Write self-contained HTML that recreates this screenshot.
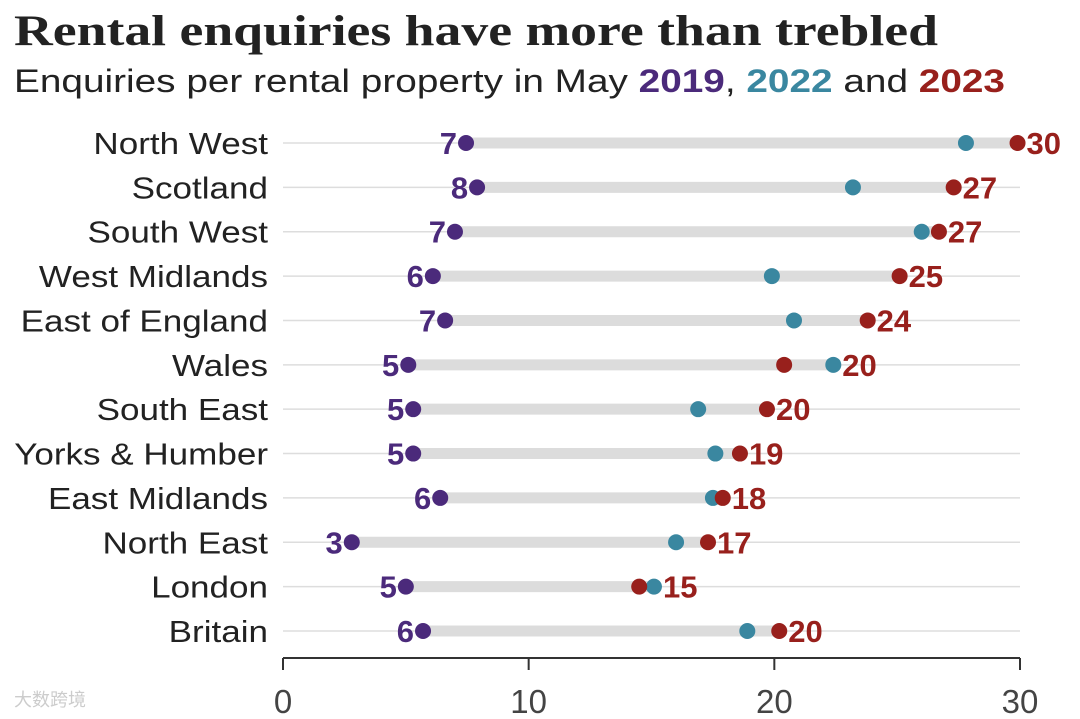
<!DOCTYPE html>
<html><head><meta charset="utf-8"><style>
body{margin:0;background:#fff;width:1080px;height:719px;overflow:hidden}
svg{display:block}
</style></head><body>
<svg id="chart" width="1080" height="719" xmlns="http://www.w3.org/2000/svg">
<text x="14" y="45" font-family="Liberation Serif, serif" font-weight="bold" font-size="43" fill="#222" textLength="924" lengthAdjust="spacingAndGlyphs">Rental enquiries have more than trebled</text>
<text x="14" y="92" font-family="Liberation Sans, sans-serif" font-size="32" fill="#222" textLength="991" lengthAdjust="spacingAndGlyphs">Enquiries per rental property in May <tspan font-weight="bold" fill="#4b2a7b">2019</tspan>, <tspan font-weight="bold" fill="#3a87a0">2022</tspan> and <tspan font-weight="bold" fill="#98201c">2023</tspan></text>
<g id="plot"></g>
<text x="14" y="706" font-family="Liberation Sans, sans-serif" font-size="18" fill="#ccc">大数跨境</text>
</svg>
<script>
const categories=["North West","Scotland","South West","West Midlands","East of England","Wales","South East","Yorks & Humber","East Midlands","North East","London","Britain"];
const v2019=[7.45,7.9,7.0,6.1,6.6,5.1,5.3,5.3,6.4,2.8,5.0,5.7];
const v2022=[27.8,23.2,26.0,19.9,20.8,22.4,16.9,17.6,17.5,16.0,15.1,18.9];
const v2023=[29.9,27.3,26.7,25.1,23.8,20.4,19.7,18.6,17.9,17.3,14.5,20.2];
const labels2019=["7","8","7","6","7","5","5","5","6","3","5","6"];
const labels2023=["30","27","27","25","24","20","20","19","18","17","15","20"];
const ticks=[0,10,20,30];
const NS="http://www.w3.org/2000/svg";
const g=document.getElementById('plot');
const x=v=>283+v*(1020-283)/30;
const y=i=>143+i*(631-143)/11;
function el(t,a){const e=document.createElementNS(NS,t);for(const k in a)e.setAttribute(k,a[k]);g.appendChild(e);return e;}
const F="Liberation Sans, sans-serif";
categories.forEach((c,i)=>{
  const yy=y(i);
  let e=el('line',{x1:283,x2:1020,y1:yy,y2:yy,stroke:'#ddd','stroke-width':1.5});
  
  
  e=el('text',{x:268,y:yy+11,'text-anchor':'end','font-family':F,'font-size':31,fill:'#222'});
  e.textContent=c;
  
  
  const w=e.getComputedTextLength();
  e.setAttribute('textLength',w*1.13);
  e.setAttribute('lengthAdjust','spacingAndGlyphs');
  const lo=Math.min(v2019[i],v2022[i],v2023[i]),hi=Math.max(v2019[i],v2022[i],v2023[i]);
  e=el('line',{x1:x(lo),x2:x(hi),y1:yy,y2:yy,stroke:'#dcdcdc','stroke-width':11});
  
  
  e=el('circle',{cx:x(v2019[i]),cy:yy,r:8,fill:'#4b2a7b'});
  
  
  e=el('circle',{cx:x(v2022[i]),cy:yy,r:8,fill:'#3a87a0'});
  
  
  e=el('circle',{cx:x(v2023[i]),cy:yy,r:8,fill:'#98201c'});
  
  
  e=el('text',{x:x(v2019[i])-9,y:yy+11,'text-anchor':'end','font-family':F,'font-size':31,'font-weight':'bold',fill:'#4b2a7b'});
  e.textContent=labels2019[i];
  
  
  e=el('text',{x:x(Math.max(v2022[i],v2023[i]))+9,y:yy+11,'font-family':F,'font-size':31,'font-weight':'bold',fill:'#98201c'});
  e.textContent=labels2023[i];
  
  
});
let a=el('line',{x1:283,x2:1020,y1:658,y2:658,stroke:'#333','stroke-width':2});


ticks.forEach(t=>{
  let e=el('line',{x1:x(t),x2:x(t),y1:658,y2:670,stroke:'#333','stroke-width':2});
  
  
  e=el('text',{x:x(t),y:713,'text-anchor':'middle','font-family':F,'font-size':33,fill:'#444'});
  e.textContent=t;
  
  
});
</script>
</body></html>
